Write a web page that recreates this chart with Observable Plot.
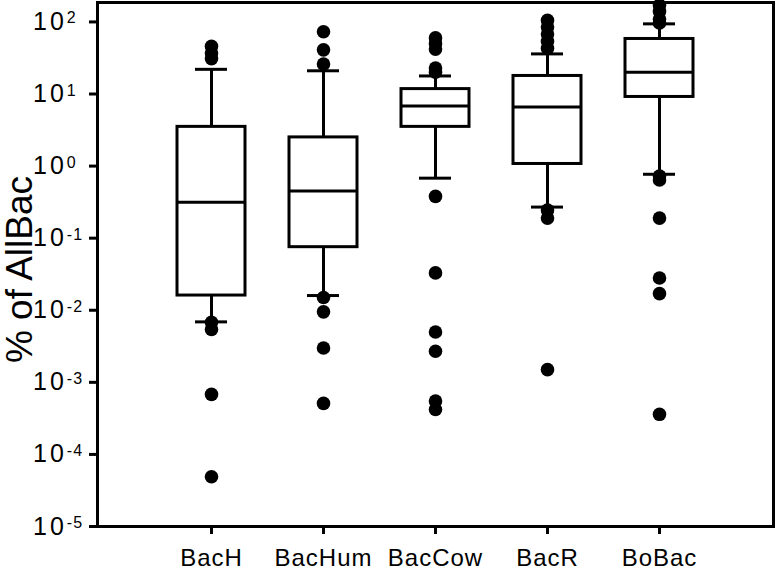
<!DOCTYPE html>
<html>
<head>
<meta charset="utf-8">
<script src="https://cdn.jsdelivr.net/npm/d3@7"></script>
<script src="https://cdn.jsdelivr.net/npm/@observablehq/plot@0.6"></script>
<style>
  html, body { margin: 0; padding: 0; background: #fff; }
  #chart { width: 777px; height: 570px; }
</style>
</head>
<body>
<div id="chart"></div>
<script>
// ---- data ----
const categories = ["BacH", "BacHum", "BacCow", "BacR", "BoBac"];
const lowerWhisker = [0.0069, 0.016, 0.68, 0.27, 0.77];
const quartile1    = [0.016, 0.075, 3.5, 1.07, 9.1];
const medians      = [0.316, 0.45, 6.8, 6.6, 20];
const quartile3    = [3.5, 2.5, 11.7, 17.8, 58];
const upperWhisker = [22, 21, 17.8, 36, 94];

const outliersBacH   = [46, 37, 31, 0.0068, 0.0054, 0.00068, 0.000049];
const outliersBacHum = [73, 41, 26, 0.015, 0.0095, 0.003, 0.00051];
const outliersBacCow = [60, 50, 42, 23, 20, 0.38, 0.033, 0.005, 0.0027, 0.00055, 0.00042];
const outliersBacR   = [105, 85, 68, 54, 43, 0.245, 0.19, 0.0015];
const outliersBoBac  = [170, 140, 110, 97, 0.73, 0.64, 0.19, 0.028, 0.017, 0.00036];

const yTicks = [1e-5, 1e-4, 1e-3, 1e-2, 1e-1, 1e0, 1e1, 1e2];
const yTitle = "% of AllBac";

// ---- tables built from the arrays ----
const boxes = categories.map((c, i) => ({
  cat: c, lo: lowerWhisker[i], q1: quartile1[i], med: medians[i], q3: quartile3[i], hi: upperWhisker[i]
}));
const outlierLists = [outliersBacH, outliersBacHum, outliersBacCow, outliersBacR, outliersBoBac];
const outliers = categories.flatMap((c, i) => outlierLists[i].map(v => ({cat: c, v})));

const lw = 3;
const marginLeft = 97;
const chart = Plot.plot({
  width: 777,
  height: 570,
  marginLeft,
  marginRight: 4,
  marginTop: 2,
  marginBottom: 44,
  style: {fontFamily: "'Liberation Sans', Arial, sans-serif", color: "black", background: "white"},
  x: {type: "band", domain: categories, paddingInner: 0.397, paddingOuter: 0.6985, axis: null},
  y: {type: "log", domain: [1e-5, 186], axis: null},
  marks: [
    Plot.ruleX(boxes, {x: "cat", y1: "q3", y2: "hi", stroke: "black", strokeWidth: lw}),
    Plot.ruleX(boxes, {x: "cat", y1: "q1", y2: "lo", stroke: "black", strokeWidth: lw}),
    Plot.barY(boxes, {x: "cat", y1: "q1", y2: "q3", fill: "white", stroke: "black", strokeWidth: lw}),
    Plot.tickY(boxes, {x: "cat", y: "med", stroke: "black", strokeWidth: lw}),
    Plot.tickY(boxes, {x: "cat", y: "hi", stroke: "black", strokeWidth: lw, insetLeft: 18, insetRight: 18}),
    Plot.tickY(boxes, {x: "cat", y: "lo", stroke: "black", strokeWidth: lw, insetLeft: 18, insetRight: 18}),
    Plot.dot(outliers, {x: "cat", y: "v", r: 6.8, fill: "black", stroke: null}),
    Plot.frame({stroke: "black", strokeWidth: lw}),
    Plot.axisY({ticks: yTicks, tickSize: 8, strokeWidth: lw, label: null, tickFormat: () => ""}),
    Plot.text(yTicks, {
      y: d => d, text: d => "10^" + Math.round(Math.log10(d)),
      frameAnchor: "left", dx: 32.5 - marginLeft, textAnchor: "start",
      fontSize: 25
    }),
    Plot.axisX({tickSize: 8, tickPadding: 14, strokeWidth: lw, label: null, fontSize: 24}),
    Plot.text([yTitle], {text: d => d, frameAnchor: "left", dx: -77, dy: 5, rotate: -90, fontSize: 37, textAnchor: "middle", lineAnchor: "middle"})
  ]
});

// x labels slightly wider like the reference
d3.select(chart).selectAll('g[aria-label="x-axis tick label"]').attr("letter-spacing", 1);

// superscript exponents on the y tick labels
d3.select(chart).selectAll("text").each(function() {
  const t = this.textContent;
  const m = t.match(/^10\^(-?\d+)$/);
  if (!m) return;
  const el = d3.select(this);
  el.text("").attr("letter-spacing", 3);
  el.append("tspan").text("10");
  el.append("tspan").attr("font-size", 16).attr("dy", -6.5).attr("letter-spacing", 1).text(m[1]);
});

document.getElementById("chart").appendChild(chart);
</script>
</body>
</html>
